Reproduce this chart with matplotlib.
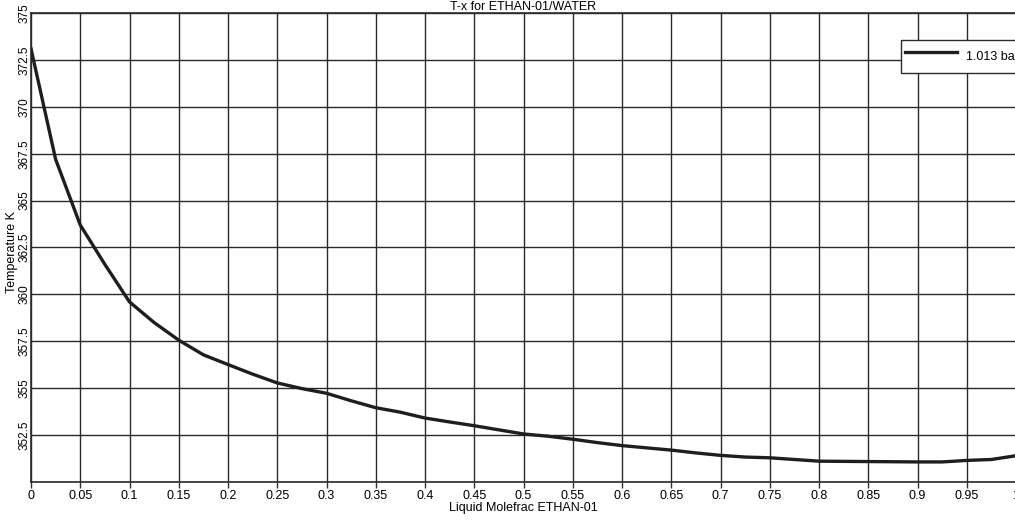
import matplotlib

matplotlib.use("Agg")
import matplotlib.pyplot as plt
import numpy as np

# liquid mole fraction of ethanol and bubble temperature (K)
x_liquid = [0.0, 0.025, 0.05, 0.075, 0.1, 0.125, 0.15, 0.175, 0.2, 0.225, 0.25,
            0.275, 0.3, 0.325, 0.35, 0.375, 0.4, 0.425, 0.45, 0.475, 0.5,
            0.525, 0.55, 0.575, 0.6, 0.625, 0.65, 0.675, 0.7, 0.725, 0.75,
            0.775, 0.8, 0.825, 0.85, 0.875, 0.9, 0.925, 0.95, 0.975, 1.0]
temp_k = [373.1, 367.2, 363.7, 361.6, 359.6, 358.5, 357.56, 356.78, 356.26, 355.75, 355.28,
          354.98, 354.73, 354.33, 353.96, 353.72, 353.41, 353.2, 353.0, 352.78, 352.56,
          352.44, 352.28, 352.1, 351.94, 351.82, 351.7, 351.55, 351.42, 351.33, 351.29,
          351.2, 351.11, 351.1, 351.09, 351.08, 351.07, 351.07, 351.15, 351.2, 351.4]

x_ticks = np.round(np.arange(0, 1.0001, 0.05), 2)
x_tick_labels = ["0", "0.05", "0.1", "0.15", "0.2", "0.25", "0.3", "0.35", "0.4", "0.45", "0.5",
                 "0.55", "0.6", "0.65", "0.7", "0.75", "0.8", "0.85", "0.9", "0.95", "1"]
y_ticks = [350, 352.5, 355, 357.5, 360, 362.5, 365, 367.5, 370, 372.5, 375]
y_tick_labels = ["", "352.5", "355", "357.5", "360", "362.5", "365", "367.5", "370", "372.5", "375"]

plt.rcParams["font.family"] = ["Liberation Sans", "DejaVu Sans"]

fig = plt.figure(figsize=(10.15, 5.22), dpi=100)
ax = fig.add_axes([31 / 1015, 40 / 522, 985 / 1015, 469 / 522])

line, = ax.plot(x_liquid, temp_k, color="#1e1e1e", lw=2.4, label="1.013 bar",
                solid_joinstyle="round", zorder=3)

ax.set_xlim(0, 1)
ax.set_ylim(350, 375)
ax.set_xticks(x_ticks)
ax.set_xticklabels(x_tick_labels, fontsize=9)
ax.set_yticks(y_ticks)
ax.set_yticklabels(y_tick_labels, fontsize=8.5, rotation=90, va="center")
ax.tick_params(axis="x", length=4, width=1, color="#333333", pad=2)
ax.tick_params(axis="y", length=0, pad=0)
ax.grid(True, color="#2a2a2a", lw=1.0)
for side in ax.spines.values():
    side.set_color("#2a2a2a")
    side.set_linewidth(1.2)

ax.set_title("T-x for ETHAN-01/WATER", fontsize=9, pad=1)
ax.set_xlabel("Liquid Molefrac ETHAN-01", fontsize=9, labelpad=0)
ax.set_ylabel("Temperature K", fontsize=9)
ax.yaxis.set_label_coords(-0.0135, 0.49)

leg = fig.legend(handles=[line], loc="upper left",
                 bbox_to_anchor=(901 / 1015, 1 - 40 / 522),
                 fontsize=9, frameon=True, fancybox=False,
                 edgecolor="#2a2a2a", framealpha=1.0,
                 handlelength=4.2, handleheight=2.7, borderpad=0.3,
                 borderaxespad=0, handletextpad=0.7)
leg.get_frame().set_linewidth(1.0)

fig.savefig("out.png", dpi=100)
plt.close(fig)
